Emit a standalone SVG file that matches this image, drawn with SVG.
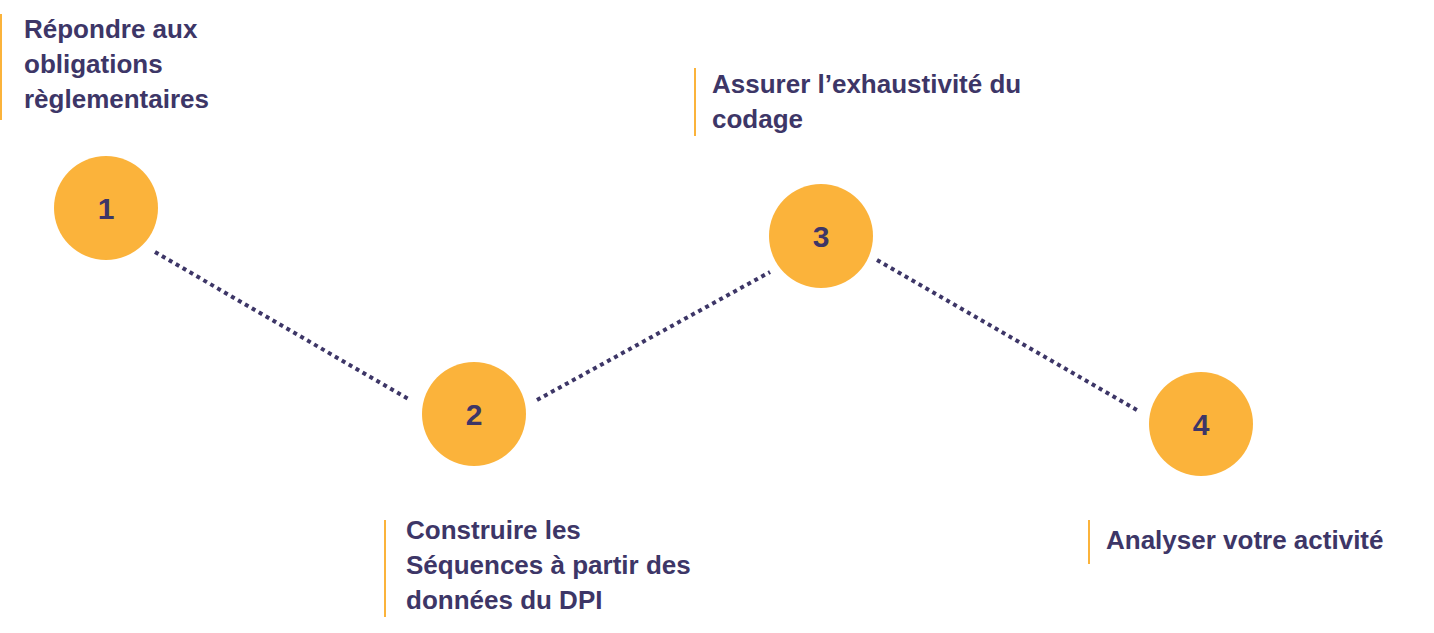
<svg xmlns="http://www.w3.org/2000/svg" width="1434" height="633" viewBox="0 0 1434 633">
<style>
.c{fill:#FBB33B}
.n{font-family:"Liberation Sans",Arial,sans-serif;font-weight:bold;font-size:30px;fill:#3D3667;text-anchor:middle}
.t{font-family:"Liberation Sans",Arial,sans-serif;font-weight:bold;font-size:26px;fill:#3D3667}
.b{stroke:#FBB33B;stroke-width:2}
.l{stroke:#3D3667;stroke-width:4;stroke-dasharray:4 4;fill:none}
</style>
<rect width="1434" height="633" fill="#fff"/>
<g id="connectors">
<line class="l" x1="155" y1="252" x2="410" y2="400"/>
<line class="l" x1="537" y1="400" x2="770" y2="272"/>
<line class="l" x1="877" y1="260" x2="1137" y2="410"/>
</g>
<g id="node1"><circle class="c" cx="106" cy="208" r="52"/><text class="n" x="106" y="219">1</text>
<line class="b" x1="1" y1="14" x2="1" y2="120"/>
<text class="t" x="24" y="38">Répondre aux</text><text class="t" x="24" y="73">obligations</text><text class="t" x="24" y="108">règlementaires</text></g>
<g id="node2"><circle class="c" cx="474" cy="414" r="52"/><text class="n" x="474" y="425">2</text>
<line class="b" x1="385" y1="520" x2="385" y2="617"/>
<text class="t" x="406" y="539">Construire les</text><text class="t" x="406" y="574">Séquences à partir des</text><text class="t" x="406" y="609">données du DPI</text></g>
<g id="node3"><circle class="c" cx="821" cy="236" r="52"/><text class="n" x="821" y="247">3</text>
<line class="b" x1="695" y1="68" x2="695" y2="136"/>
<text class="t" x="712" y="93">Assurer l’exhaustivité du</text><text class="t" x="712" y="128">codage</text></g>
<g id="node4"><circle class="c" cx="1201" cy="424" r="52"/><text class="n" x="1201" y="435">4</text>
<line class="b" x1="1089" y1="520" x2="1089" y2="564"/>
<text class="t" x="1106" y="549">Analyser votre activité</text></g>
</svg>
